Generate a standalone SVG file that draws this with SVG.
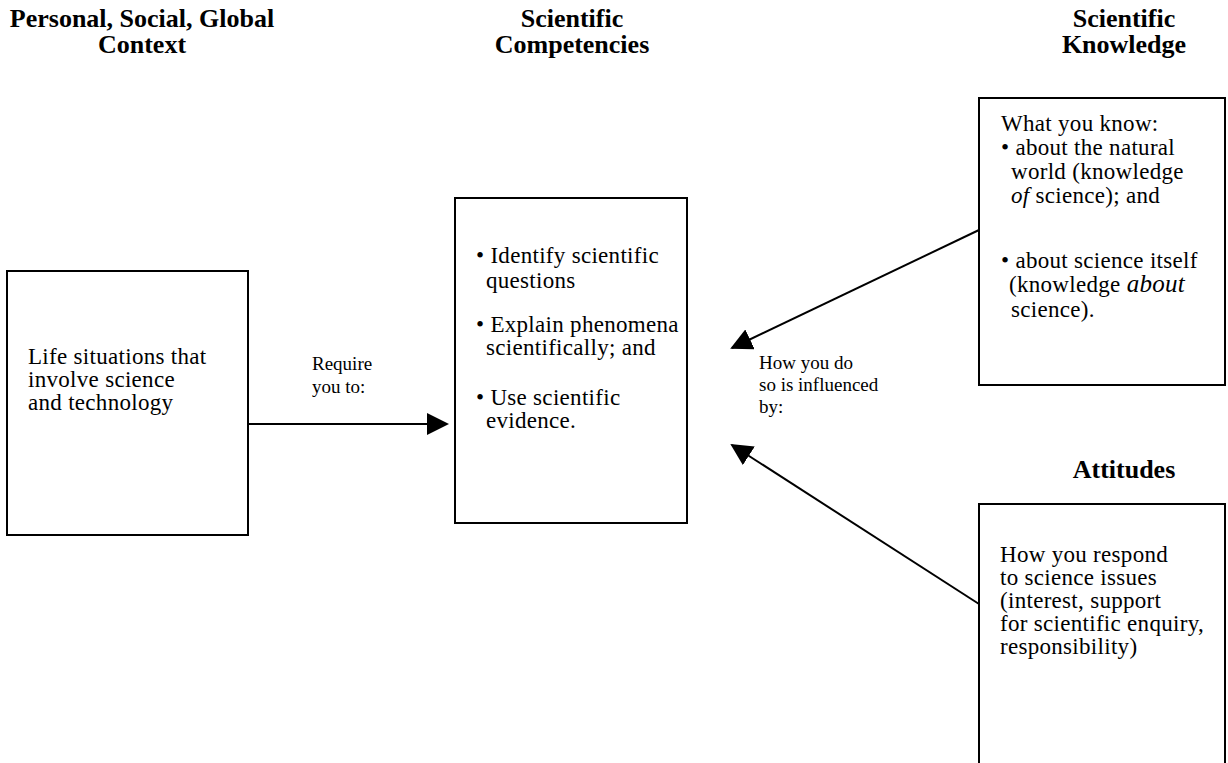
<svg xmlns="http://www.w3.org/2000/svg" width="1228" height="763" viewBox="0 0 1228 763">
<defs>
<style>
text{font-family:'Liberation Serif','Times New Roman',Times,serif;fill:#000}
.box{fill:#fff;stroke:#000;stroke-width:2}
.t{font-size:23px;letter-spacing:0.3px}
.s{font-size:19px}
.h{font-weight:bold;font-size:26px;text-anchor:middle}
.c{stroke:#000;stroke-width:2;fill:none}
</style>
<marker id="ah" markerWidth="22" markerHeight="22" refX="20" refY="11" orient="auto" markerUnits="userSpaceOnUse">
<path d="M0,0 L22,11 L0,22 Z" fill="#000"/>
</marker>
</defs>
<rect width="1228" height="763" fill="#fff"/>
<g id="headers" font-family="Liberation Serif, serif">
<text class="h" x="142" y="27">Personal, Social, Global</text>
<text class="h" x="142" y="53">Context</text>
<text class="h" x="572" y="27">Scientific</text>
<text class="h" x="572" y="53">Competencies</text>
<text class="h" x="1124" y="27">Scientific</text>
<text class="h" x="1124" y="53">Knowledge</text>
<text class="h" x="1124" y="478" font-size="25">Attitudes</text>
</g>
<g id="connectors" font-family="Liberation Serif, serif">
<line class="c" x1="248" y1="424" x2="447" y2="424" marker-end="url(#ah)"/>
<line class="c" x1="979" y1="230" x2="732" y2="348" marker-end="url(#ah)"/>
<line class="c" x1="979" y1="604" x2="732" y2="445" marker-end="url(#ah)"/>
<text class="s" x="312" y="370">Require</text>
<text class="s" x="312" y="393">you to:</text>
<text class="s" x="759" y="369">How you do</text>
<text class="s" x="759" y="391">so is influenced</text>
<text class="s" x="759" y="413">by:</text>
</g>
<g id="node-context" font-family="Liberation Serif, serif">
<rect class="box" x="7" y="271" width="241" height="264"/>
<text class="t" x="28" y="364">Life situations that</text>
<text class="t" x="28" y="387">involve science</text>
<text class="t" x="28" y="410">and technology</text>
</g>
<g id="node-competencies" font-family="Liberation Serif, serif">
<rect class="box" x="455" y="198" width="232" height="325"/>
<text class="t" x="476" y="263">• Identify scientific</text>
<text class="t" x="486" y="288">questions</text>
<text class="t" x="476" y="332">• Explain phenomena</text>
<text class="t" x="486" y="355">scientifically; and</text>
<text class="t" x="476" y="405">• Use scientific</text>
<text class="t" x="486" y="428">evidence.</text>
</g>
<g id="node-knowledge" font-family="Liberation Serif, serif">
<rect class="box" x="979" y="98" width="246" height="287"/>
<text class="t" x="1001" y="131">What you know:</text>
<text class="t" x="1001" y="155">• about the natural</text>
<text class="t" x="1011" y="179">world (knowledge</text>
<text class="t" x="1011" y="203"><tspan font-style="italic">of</tspan> science); and</text>
<text class="t" x="1001" y="268">• about science itself</text>
<text class="t" x="1009" y="292">(knowledge <tspan font-style="italic" font-size="25">about</tspan></text>
<text class="t" x="1011" y="317" font-size="25">science).</text>
</g>
<g id="node-attitudes" font-family="Liberation Serif, serif">
<path class="box" d="M979,763 V504 H1225 V763"/>
<text class="t" x="1000" y="562">How you respond</text>
<text class="t" x="1000" y="585">to science issues</text>
<text class="t" x="1000" y="608">(interest, support</text>
<text class="t" x="1000" y="631">for scientific enquiry,</text>
<text class="t" x="1000" y="654">responsibility)</text>
</g>
</svg>
